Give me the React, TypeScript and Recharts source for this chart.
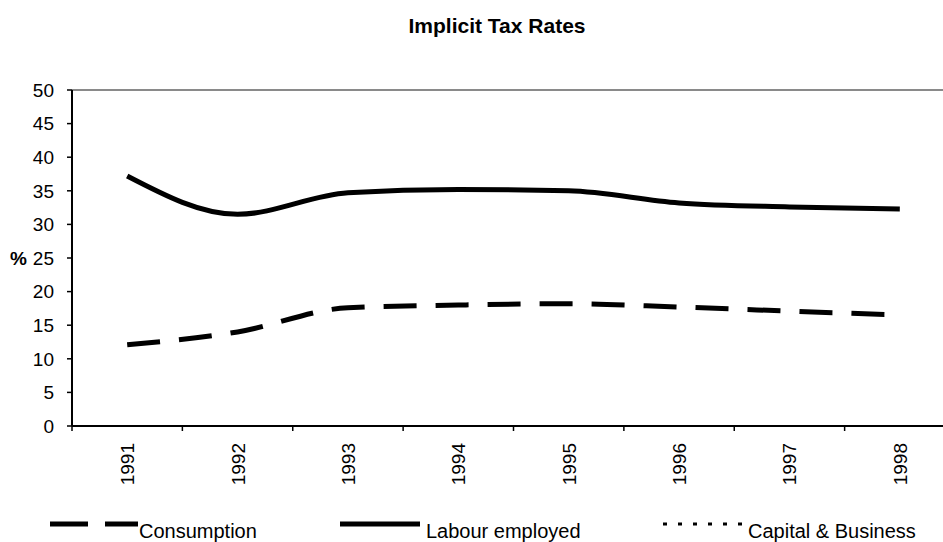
import React from 'react';
import { LineChart, Line, XAxis, YAxis, ReferenceLine, Legend } from 'recharts';

const years = ['1991', '1992', '1993', '1994', '1995', '1996', '1997', '1998'];
const consumption = [12.1, 14.0, 17.6, 18.0, 18.2, 17.7, 17.1, 16.5];
const labour = [37.2, 31.5, 34.7, 35.2, 35.0, 33.2, 32.6, 32.3];
const capital: (number | null)[] = [null, null, null, null, null, null, null, null];
const yTicks = [0, 5, 10, 15, 20, 25, 30, 35, 40, 45, 50];

const data = years.map((year, i) => ({
  year,
  consumption: consumption[i],
  labour: labour[i],
  capital: capital[i],
}));

const legendLook: Record<string, { left: number; iconW: number; textX: number; dash?: string; sw: number }> = {
  consumption: { left: 50, iconW: 88, textX: 89, dash: '38 17', sw: 5 },
  labour: { left: 340, iconW: 80, textX: 86, sw: 5 },
  capital: { left: 663, iconW: 87, textX: 85, dash: '4 11', sw: 3 },
};

const XTick = (props: any) => {
  const { x, y, payload } = props;
  const off = payload && typeof payload.offset === 'number' && payload.offset > 0 ? payload.offset : 55.2;
  const tx = x + 7;
  const ty = y + 17;
  return (
    <g>
      <line x1={x - off} x2={x - off} y1={y} y2={y + 5} stroke="#000" strokeWidth={1.5} />
      <text x={tx} y={ty} transform={`rotate(-90, ${tx}, ${ty})`} textAnchor="end" fontSize={19} fill="#000">
        {payload.value}
      </text>
    </g>
  );
};

const LegendContent = (props: any) => {
  const payload = props.payload || [];
  return (
    <div style={{ position: 'relative', width: 943, height: 30 }}>
      {payload.map((e: any) => {
        const s = legendLook[e.dataKey as string];
        if (!s) return null;
        return (
          <svg key={String(e.dataKey)} style={{ position: 'absolute', left: s.left, top: 0 }} width={280} height={30}>
            <line x1={0} x2={s.iconW} y1={12} y2={12} stroke="#000" strokeWidth={s.sw} strokeDasharray={s.dash} />
            <text x={s.textX} y={26} fontSize={20} fill="#000">
              {e.value}
            </text>
          </svg>
        );
      })}
    </div>
  );
};

export default function App() {
  return (
    <div
      style={{
        position: 'fixed',
        left: 0,
        top: 0,
        width: 943,
        height: 542,
        overflow: 'hidden',
        background: '#fff',
        fontFamily: '"Liberation Sans", Arial, sans-serif',
      }}
    >
      <svg style={{ position: 'absolute', left: 0, top: 0 }} width={943} height={50}>
        <text x={497} y={33} textAnchor="middle" fontSize={21} fontWeight="bold" fill="#000">
          Implicit Tax Rates
        </text>
      </svg>
      <LineChart width={960} height={542} data={data} margin={{ top: 90, right: 5, bottom: 0, left: 0 }}>
        <ReferenceLine y={50} stroke="#8a8a8a" strokeWidth={2} />
        <XAxis
          dataKey="year"
          scale="band"
          height={116}
          tickLine={false}
          tickSize={0}
          tickMargin={0}
          interval={0}
          axisLine={{ stroke: '#000', strokeWidth: 2 }}
          tick={<XTick />}
        />
        <YAxis
          width={72}
          domain={[0, 50]}
          ticks={yTicks}
          interval={0}
          tickSize={5}
          tickMargin={13}
          axisLine={{ stroke: '#000', strokeWidth: 2 }}
          tickLine={{ stroke: '#000', strokeWidth: 1.5 }}
          tick={{ fill: '#000', fontSize: 19 }}
          label={{ value: '%', position: 'insideLeft', offset: 10, style: { fontWeight: 'bold', fontSize: 19, fill: '#000' } }}
        />
        <Legend
          layout="horizontal"
          verticalAlign="middle"
          align="center"
          wrapperStyle={{ top: 512, left: 0, width: 943, height: 30 }}
          content={<LegendContent />}
        />
        <Line
          dataKey="consumption"
          name="Consumption"
          type="monotone"
          stroke="#000"
          strokeWidth={5}
          strokeDasharray="33 19"
          dot={false}
          activeDot={false}
          isAnimationActive={false}
        />
        <Line
          dataKey="labour"
          name="Labour employed"
          type="monotone"
          stroke="#000"
          strokeWidth={5}
          dot={false}
          activeDot={false}
          isAnimationActive={false}
        />
        <Line
          dataKey="capital"
          name="Capital & Business"
          type="monotone"
          stroke="#000"
          strokeWidth={3}
          strokeDasharray="4 11"
          dot={false}
          activeDot={false}
          connectNulls={false}
          isAnimationActive={false}
        />
      </LineChart>
    </div>
  );
}
